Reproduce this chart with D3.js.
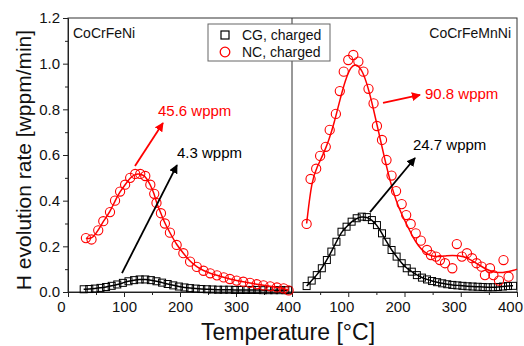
<!DOCTYPE html>
<html>
<head>
<meta charset="utf-8">
<script src="https://cdn.jsdelivr.net/npm/d3@7"></script>
<style>
  body { margin: 0; background: #fff; }
  text { font-family: Arial, "Liberation Sans", sans-serif; }
</style>
</head>
<body>
<script>
// CoCrFeNi (left panel)
var leftNcT = [32, 42, 54, 63, 75, 84, 93, 102, 111, 120, 129, 138, 147, 154, 158, 166, 173, 182, 194, 206, 218, 230, 242, 254, 266, 278, 289, 301, 313, 325, 337, 349, 361, 373, 385, 394];
var leftNcV = [0.236, 0.23, 0.27, 0.31, 0.35, 0.40, 0.44, 0.47, 0.50, 0.517, 0.517, 0.508, 0.47, 0.43, 0.39, 0.345, 0.30, 0.26, 0.206, 0.17, 0.133, 0.11, 0.093, 0.082, 0.073, 0.064, 0.057, 0.05, 0.045, 0.04, 0.034, 0.029, 0.025, 0.02, 0.016, 0.007];
var leftCgT = [28, 38, 48, 58, 68, 78, 88, 98, 108, 118, 128, 138, 148, 158, 168, 178, 188, 198, 208, 218, 228, 238, 248, 258, 268, 278, 288, 298, 308, 318, 328, 338, 348, 358, 368, 378, 388, 393];
var leftCgV = [0.012, 0.013, 0.015, 0.018, 0.022, 0.027, 0.033, 0.04, 0.047, 0.052, 0.055, 0.055, 0.052, 0.047, 0.041, 0.035, 0.029, 0.024, 0.02, 0.017, 0.015, 0.013, 0.012, 0.011, 0.01, 0.01, 0.01, 0.009, 0.009, 0.009, 0.009, 0.009, 0.008, 0.008, 0.008, 0.008, 0.008, 0.008];

// CoCrFeMnNi (right panel)
var rightNcT = [26, 33, 43, 50, 60, 67, 78, 85, 92, 100, 109, 118, 127, 136, 145, 151, 160, 168, 177, 185, 195, 203, 211, 220, 229, 240, 247, 256, 263, 272, 285, 293, 302, 311, 320, 328, 337, 343, 352, 358, 368, 376, 385];
var rightNcV = [0.298, 0.495, 0.54, 0.596, 0.636, 0.71, 0.78, 0.88, 0.965, 1.016, 1.038, 1.009, 0.965, 0.89, 0.826, 0.727, 0.666, 0.578, 0.51, 0.442, 0.385, 0.337, 0.298, 0.257, 0.225, 0.184, 0.162, 0.155, 0.14, 0.126, 0.104, 0.21, 0.155, 0.17, 0.148, 0.126, 0.111, 0.074, 0.104, 0.074, 0.05, 0.14, 0.067];
var rightNcFitT = [26, 35, 45, 55, 65, 75, 85, 95, 105, 115, 125, 135, 145, 155, 165, 175, 185, 195, 205, 215, 225, 235, 245, 255, 265, 275, 285, 295, 305, 315, 325, 335, 345, 355, 365, 375, 385, 395, 400];
var rightNcFitV = [0.30, 0.49, 0.55, 0.60, 0.66, 0.74, 0.84, 0.93, 0.99, 1.00, 0.97, 0.90, 0.80, 0.69, 0.58, 0.48, 0.40, 0.34, 0.29, 0.24, 0.20, 0.175, 0.16, 0.155, 0.155, 0.16, 0.16, 0.16, 0.155, 0.145, 0.13, 0.115, 0.10, 0.09, 0.085, 0.085, 0.09, 0.095, 0.10];
var rightCgT = [26, 35, 44, 53, 62, 70, 79, 88, 97, 106, 115, 124, 133, 142, 151, 160, 168, 177, 186, 195, 204, 213, 222, 231, 240, 249, 258, 267, 276, 285, 294, 303, 312, 321, 330, 339, 348, 357, 366, 375, 384, 393];
var rightCgV = [0.026, 0.05, 0.074, 0.104, 0.14, 0.177, 0.22, 0.264, 0.286, 0.308, 0.323, 0.33, 0.328, 0.315, 0.293, 0.257, 0.22, 0.184, 0.155, 0.126, 0.104, 0.089, 0.074, 0.063, 0.055, 0.048, 0.043, 0.038, 0.034, 0.031, 0.029, 0.027, 0.025, 0.024, 0.023, 0.022, 0.021, 0.021, 0.022, 0.024, 0.026, 0.027];

// tick values
var xMajor = [0, 100, 200, 300, 400];
var xMinor = [50, 150, 250, 350];
var yMajor = [0, 0.2, 0.4, 0.6, 0.8, 1.0, 1.2];
var yMinor = [0.1, 0.3, 0.5, 0.7, 0.9, 1.1];

var svg = d3.select("body").append("svg").attr("width", 524).attr("height", 346);

var xL = d3.scaleLinear().domain([0, 400]).range([68, 292]);
var xR = d3.scaleLinear().domain([0, 400]).range([292, 517]);
var y = d3.scaleLinear().domain([0, 1.2]).range([292, 18]);

function zip(t, v) { return t.map(function(d, i) { return [d, v[i]]; }); }

// frame
svg.append("rect").attr("x", 68).attr("y", 18).attr("width", 449).attr("height", 274)
    .attr("fill", "none").attr("stroke", "#333").attr("stroke-width", 1);
svg.append("line").attr("x1", xR(0)).attr("x2", xR(0)).attr("y1", 18).attr("y2", 292)
    .attr("stroke", "#333");

// axes
function styleAxis(g) {
    g.select(".domain").attr("stroke", "#222");
    g.selectAll(".tick line").attr("stroke", "#222");
    g.selectAll("text").attr("font-size", 15).attr("fill", "#111")
        .style("font-family", "Arial, 'Liberation Sans', sans-serif");
}
var gxL = svg.append("g").attr("transform", "translate(0,292)")
    .call(d3.axisBottom(xL).tickValues(xMajor).tickSize(5).tickSizeOuter(0).tickPadding(4)).call(styleAxis);
// the reference nudges the end labels of the left panel inwards
gxL.selectAll(".tick text").attr("dx", function(d) { return d === 0 ? -7 : (d === 400 ? -4 : 0); });
svg.append("g").attr("transform", "translate(0,292)")
    .call(d3.axisBottom(xL).tickValues(xMinor).tickSize(3).tickSizeOuter(0).tickFormat("")).call(styleAxis);
var gxR = svg.append("g").attr("transform", "translate(0,292)")
    .call(d3.axisBottom(xR).tickValues(xMajor.slice(1)).tickSize(5).tickSizeOuter(0).tickPadding(4)).call(styleAxis);
// right panel labels sit a little left of their ticks in the reference
gxR.selectAll(".tick text").attr("dx", -7);
svg.append("g").attr("transform", "translate(0,292)")
    .call(d3.axisBottom(xR).tickValues(xMinor).tickSize(3).tickSizeOuter(0).tickFormat("")).call(styleAxis);
svg.append("g").attr("transform", "translate(68,0)")
    .call(d3.axisLeft(y).tickValues(yMajor).tickFormat(d3.format(".1f")).tickSize(5).tickSizeOuter(0).tickPadding(3)).call(styleAxis);
svg.append("g").attr("transform", "translate(68,0)")
    .call(d3.axisLeft(y).tickValues(yMinor).tickFormat("").tickSize(3).tickSizeOuter(0)).call(styleAxis);

// axis titles
svg.append("text").attr("x", 288).attr("y", 340).attr("text-anchor", "middle")
    .attr("font-size", 23).attr("fill", "#111").text("Temperature [\u00B0C]");
svg.append("text").attr("transform", "translate(31,160) rotate(-90)").attr("text-anchor", "middle")
    .attr("font-size", 21).attr("fill", "#111").text("H evolution rate [wppm/min]");

// series
function drawSeries(x, pts, fit, color, shape) {
    var line = d3.line().x(function(d) { return x(d[0]); }).y(function(d) { return y(d[1]); })
        .curve(d3.curveBasis);
    if (shape === "square") {
        svg.append("g").selectAll("rect").data(pts).enter().append("rect")
            .attr("x", function(d) { return x(d[0]) - 3.5; })
            .attr("y", function(d) { return y(d[1]) - 3.5; })
            .attr("width", 7).attr("height", 7)
            .attr("fill", "none").attr("stroke", color).attr("stroke-width", 1);
    } else {
        svg.append("g").selectAll("circle").data(pts).enter().append("circle")
            .attr("cx", function(d) { return x(d[0]); })
            .attr("cy", function(d) { return y(d[1]); })
            .attr("r", 4.6)
            .attr("fill", "none").attr("stroke", color).attr("stroke-width", 1.1);
    }
    svg.append("path").datum(fit).attr("d", line)
        .attr("fill", "none").attr("stroke", color).attr("stroke-width", 1.5);
}
drawSeries(xL, zip(leftCgT, leftCgV), zip(leftCgT, leftCgV), "#000", "square");
drawSeries(xL, zip(leftNcT, leftNcV), zip(leftNcT, leftNcV), "#ff0000", "circle");
drawSeries(xR, zip(rightCgT, rightCgV), zip(rightCgT, rightCgV), "#000", "square");
drawSeries(xR, zip(rightNcT, rightNcV), zip(rightNcFitT, rightNcFitV), "#ff0000", "circle");

// arrow markers
var defs = svg.append("defs");
[["arrRed", "#ff0000"], ["arrBlack", "#000"]].forEach(function(m) {
    defs.append("marker").attr("id", m[0]).attr("viewBox", "0 0 10 10")
        .attr("refX", 9).attr("refY", 5).attr("markerWidth", 5).attr("markerHeight", 5)
        .attr("orient", "auto").attr("markerUnits", "strokeWidth")
        .append("path").attr("d", "M0,0 L10,5 L0,10 z").attr("fill", m[1]);
});

// annotations: panel, from, to, label position, text, colour
var notes = [
    { x: xL, from: [119.6, 0.552], to: [169.6, 0.74], at: [160.7, 0.771], text: "45.6 wppm", color: "#ff0000", marker: "arrRed" },
    { x: xL, from: [96.4, 0.083], to: [194.6, 0.556], at: [194.6, 0.589], text: "4.3 wppm", color: "#000", marker: "arrBlack" },
    { x: xR, from: [161.8, 0.828], to: [227.6, 0.863], at: [236.4, 0.847], text: "90.8 wppm", color: "#ff0000", marker: "arrRed" },
    { x: xR, from: [138.7, 0.35], to: [218.7, 0.587], at: [215, 0.624], text: "24.7 wppm", color: "#000", marker: "arrBlack" }
];
notes.forEach(function(n) {
    svg.append("line")
        .attr("x1", n.x(n.from[0])).attr("y1", y(n.from[1]))
        .attr("x2", n.x(n.to[0])).attr("y2", y(n.to[1]))
        .attr("stroke", n.color).attr("stroke-width", 1.8)
        .attr("marker-end", "url(#" + n.marker + ")");
    svg.append("text").attr("x", n.x(n.at[0])).attr("y", y(n.at[1]))
        .attr("font-size", 15).attr("fill", n.color).text(n.text);
});

// panel labels
svg.append("text").attr("x", 73).attr("y", 38).attr("font-size", 14).attr("fill", "#111").text("CoCrFeNi");
svg.append("text").attr("x", 511).attr("y", 38).attr("text-anchor", "end").attr("font-size", 14).attr("fill", "#111").text("CoCrFeMnNi");

// legend
var leg = svg.append("g");
leg.append("rect").attr("x", 208).attr("y", 24).attr("width", 122).attr("height", 37)
    .attr("fill", "#fff").attr("stroke", "#666").attr("stroke-width", 1);
leg.append("rect").attr("x", 221).attr("y", 31).attr("width", 8).attr("height", 8)
    .attr("fill", "none").attr("stroke", "#000").attr("stroke-width", 1.2);
leg.append("circle").attr("cx", 225).attr("cy", 52).attr("r", 4.8)
    .attr("fill", "none").attr("stroke", "#ff0000").attr("stroke-width", 1.3);
leg.append("text").attr("x", 242).attr("y", 40).attr("font-size", 14).attr("fill", "#111").text("CG, charged");
leg.append("text").attr("x", 242).attr("y", 57).attr("font-size", 14).attr("fill", "#111").text("NC, charged");
</script>
</body>
</html>
